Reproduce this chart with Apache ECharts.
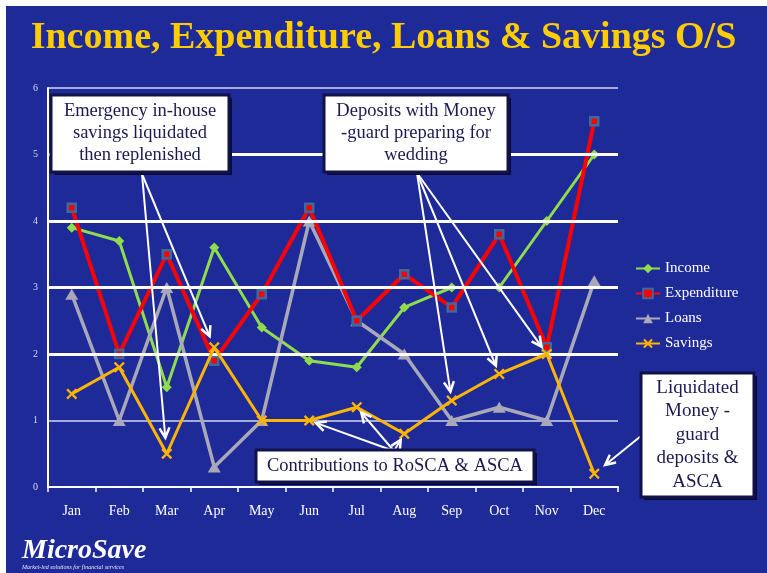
<!DOCTYPE html>
<html>
<head>
<meta charset="utf-8">
<script src="https://cdn.jsdelivr.net/npm/echarts@6/dist/echarts.min.js"></script>
<style>
html,body{margin:0;padding:0;background:#fff;}
#wrap{position:relative;width:767px;height:573px;overflow:hidden;}
#bg{position:absolute;left:6px;top:6px;right:0;bottom:0;background:#1f2a99;}
#chart{position:absolute;left:0;top:0;width:767px;height:573px;}
</style>
</head>
<body>
<div id="wrap"><div id="bg"></div><div id="chart"></div></div>
<script>
const titleText = 'Income, Expenditure, Loans & Savings O/S';
const months = ['Jan','Feb','Mar','Apr','May','Jun','Jul','Aug','Sep','Oct','Nov','Dec'];
const income = [3.9,3.7,1.5,3.6,2.4,1.9,1.8,2.7,3.0,3.0,4.0,5.0];
const expenditure = [4.2,2.0,3.5,1.9,2.9,4.2,2.5,3.2,2.7,3.8,2.1,5.5];
const loans = [2.9,1.0,3.0,0.3,1.0,4.0,2.5,2.0,1.0,1.2,1.0,3.1];
const savings = [1.4,1.8,0.5,2.1,1.0,1.0,1.2,0.8,1.3,1.7,2.0,0.2];
const yMin = 0, yMax = 6, yStep = 1;
const thickGrid = [2,3,4,5];
const seriesNames = ['Income','Expenditure','Loans','Savings'];

const note1 = ['Emergency in-house','savings liquidated','then replenished'];
const note1Targets = [2,3];
const note2 = ['Deposits with Money','-guard preparing for','wedding'];
const note2Targets = [8,9,10];
const note3 = ['Contributions to RoSCA & ASCA'];
const note3Targets = [5,6,7];
const note4 = ['Liquidated','Money -','guard','deposits &','ASCA'];
const note4Targets = [11];

const serif = 'Liberation Serif';
const xSym = 'path://M0,1.5 L1.5,0 L5,3.5 L8.5,0 L10,1.5 L6.5,5 L10,8.5 L8.5,10 L5,6.5 L1.5,10 L0,8.5 L3.5,5 Z';

const chart = echarts.init(document.getElementById('chart'), null, {renderer:'canvas'});
const option = {
  backgroundColor: 'transparent',
  animation: false,
  title: {
    text: titleText, left: 'center', top: 14,
    textStyle: {fontFamily: serif, fontWeight: 'bold', fontSize: 38, color: '#ffcc00'}
  },
  grid: {left: 48, right: 149, top: 88, bottom: 86},
  legend: {
    data: seriesNames, orient: 'vertical', left: 630, top: 256,
    itemWidth: 24, itemHeight: 12, itemGap: 10,
    textStyle: {fontFamily: serif, fontSize: 15, color: '#ffffff'}
  },
  xAxis: {
    type: 'category', data: months, boundaryGap: true,
    axisLine: {show: true, lineStyle: {color: '#ffffff', width: 2}},
    axisTick: {show: true, length: 5, lineStyle: {color: '#ffffff', width: 1.5}},
    axisLabel: {fontFamily: serif, fontSize: 14, color: '#ffffff', margin: 17}
  },
  yAxis: {
    type: 'value', min: yMin, max: yMax, interval: yStep,
    axisLine: {show: true, lineStyle: {color: '#ffffff', width: 2}},
    axisTick: {show: false},
    axisLabel: {fontFamily: serif, fontSize: 10, color: '#d8d8ee', margin: 10},
    splitLine: {show: true, lineStyle: {color: '#d4d6ee', width: 1.5}}
  },
  series: [
    {
      name: '_grid', type: 'line', data: [], silent: true, z: 1,
      markLine: {
        silent: true, symbol: ['none','none'], label: {show: false},
        lineStyle: {color: '#ffffff', width: 3, type: 'solid'},
        data: thickGrid.map(v => ({yAxis: v}))
      }
    },
    {
      name: 'Income', type: 'line', data: income, z: 3,
      symbol: 'diamond', symbolSize: 10,
      lineStyle: {color: '#8fdc4c', width: 3},
      itemStyle: {color: '#8fdc4c'}
    },
    {
      name: 'Expenditure', type: 'line', data: expenditure, z: 4,
      symbol: 'rect', symbolSize: 8,
      lineStyle: {color: '#ff0000', width: 4},
      itemStyle: {color: '#ff0000', borderColor: '#3a6a9e', borderWidth: 2.5}
    },
    {
      name: 'Loans', type: 'line', data: loans, z: 3,
      symbol: 'triangle', symbolSize: [13, 11],
      lineStyle: {color: '#a8a8b8', width: 3.5},
      itemStyle: {color: '#a8a8b8'}
    },
    {
      name: 'Savings', type: 'line', data: savings, z: 5,
      symbol: xSym, symbolSize: 11,
      lineStyle: {color: '#ffb400', width: 3},
      itemStyle: {color: '#ffb400'}
    }
  ]
};
chart.setOption(option);

function box(x, y, w, h, lines, fontSize, lineH) {
  const els = [];
  els.push({type:'rect', shape:{x:x+3, y:y+3, width:w, height:h}, style:{fill:'#0a0a3a'}, z:20});
  els.push({type:'rect', shape:{x:x, y:y, width:w, height:h}, style:{fill:'#ffffff', stroke:'#12124a', lineWidth:3}, z:21});
  const total = lines.length * lineH;
  lines.forEach((t, i) => {
    els.push({type:'text', x: x + w/2, y: y + (h - total)/2 + lineH*i + lineH/2, z:22,
      style:{text:t, fill:'#1a1a52', font: fontSize + 'px "Liberation Serif"', textAlign:'center', textVerticalAlign:'middle'}});
  });
  return els;
}
function arrow(sx, sy, idx, gap) {
  const p = chart.convertToPixel({xAxisIndex:0, yAxisIndex:0}, [idx, savings[idx]]);
  const dx = p[0]-sx, dy = p[1]-sy, L = Math.hypot(dx, dy);
  const ux = dx/L, uy = dy/L;
  const ex = p[0]-ux*gap, ey = p[1]-uy*gap;
  const hl = 10, hw = 5;
  const bx = ex-ux*hl, by = ey-uy*hl;
  return [
    {type:'line', shape:{x1:sx, y1:sy, x2:ex, y2:ey}, style:{stroke:'#ffffff', lineWidth:2}, z:19},
    {type:'polyline', shape:{points:[[bx - uy*hw, by + ux*hw],[ex, ey],[bx + uy*hw, by - ux*hw]]}, style:{stroke:'#ffffff', lineWidth:2.5, fill:null}, z:19}
  ];
}
let g = [];
note1Targets.forEach(i => { g = g.concat(arrow(142, 174, i, i === 2 ? 16 : 12)); });
note2Targets.forEach(i => { g = g.concat(arrow(417, 173, i, 9)); });
note3Targets.forEach(i => { g = g.concat(arrow(394, 451, i, 7)); });
note4Targets.forEach(i => { g = g.concat(arrow(641, 436, i, 14)); });
g = g.concat(box(51, 95, 178, 77, note1, 18.5, 22));
g = g.concat(box(324, 95, 184, 77, note2, 18.5, 22));
g = g.concat(box(256, 450, 278, 32, note3, 18.5, 22));
g = g.concat(box(641, 373, 113, 124, note4, 19, 23.5));
g.push({type:'text', x:22, y:551, z:22, style:{text:'MicroSave', fill:'#ffffff', font:'italic bold 28px "Liberation Serif"', textVerticalAlign:'middle'}});
g.push({type:'text', x:22, y:567, z:22, style:{text:'Market-led solutions for financial services', fill:'#e8e8f8', font:'italic 6px "Liberation Serif"', textVerticalAlign:'middle'}});
chart.setOption({graphic: {elements: g}});
</script>
</body>
</html>
